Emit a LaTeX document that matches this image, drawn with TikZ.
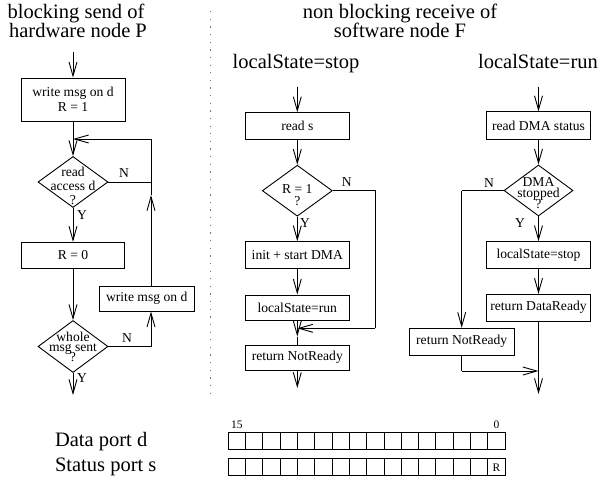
\documentclass[tikz,border=0pt]{standalone}
\usepackage{fontspec}
\setmainfont{Liberation Serif}
\usetikzlibrary{arrows.meta,shapes.geometric}
\begin{document}
\begin{tikzpicture}[x=1pt,y=-1pt,
  line width=0.9pt,
  big/.style={font=\fontsize{20.5}{19.4}\selectfont, inner sep=0pt},
  small/.style={font=\fontsize{13.6}{15.5}\selectfont},
  box/.style={draw, rectangle, inner sep=0pt, minimum width=103.3pt, minimum height=26pt, small, align=center},
  dia/.style={draw, diamond, inner sep=0pt, minimum width=70pt, minimum height=51pt},
  dline/.style={small, inner sep=0pt, anchor=base},
  arr/.style={-{Straight Barb[length=14pt,width=8pt]}},
  lbl/.style={small, inner sep=0pt},
  tiny/.style={font=\fontsize{11.5}{13}\selectfont, inner sep=0pt},
  cell/.style={draw, rectangle, minimum width=17.3pt, minimum height=17pt, inner sep=0pt},
  sep/.style={line width=1.3pt, black!55, dash pattern=on 1.3pt off 6.33pt}
]
\useasboundingbox (0,0) rectangle (600,483);

% ---------- titles ----------
\node[big, anchor=base] (t1a) at (76,18.5) {blocking send of};
\node[big, anchor=base] (t1b) at (78,37.7) {hardware node P};
\node[big, anchor=base] (t2a) at (400,18.5) {non blocking receive of};
\node[big, anchor=base] (t2b) at (400,37.7) {software node F};
\node[big, anchor=base] (t3) at (296,68) {localState=stop};
\node[big, anchor=base] (t4) at (538,68) {localState=run};

% separator
\coordinate (s1) at (210.7,11.1);
\coordinate (s2) at (210.7,394);
\draw[sep] (s1) -- (s2);

% ---------- left column ----------
\coordinate (in1) at (73,52);
\node[box, minimum width=104pt, minimum height=43pt] (w1) at (73,99.5) {write msg on d\\R = 1};
\draw[arr] (in1) -- (w1.north);
\node[dia] (d1) at (73,182) {};
\node[dline] (d1a) at (73,176.5) {read};
\node[dline] (d1b) at (73,190) {access d};
\node[dline] (d1c) at (73,204) {?};
\coordinate (j1) at (73,139);
\draw[arr] (w1.south) -- (d1.north);
\coordinate (r1) at (151,182);
\draw (d1.east) -- (r1);
\node[lbl] (n1) at (124,173) {N};
\node[box, minimum width=95.3pt, minimum height=25pt] (w2) at (146.7,298.5) {write msg on d};
\coordinate (up1) at (151,195);
\coordinate (c1) at (151,139);
\draw[arr] (w2.north -| up1) -- (up1);
\draw (up1) -- (c1);
\draw[arr] (c1) -- (j1);
\node[lbl] (y1) at (82,215) {Y};
\node[box] (r0) at (73,255.3) {R = 0};
\draw[arr] (d1.south) -- (r0.north);
\node[dia, minimum height=52pt] (d2) at (73,346.5) {};
\node[dline] (d2a) at (73,341.5) {whole};
\node[dline] (d2b) at (73,351.5) {msg sent};
\node[dline] (d2c) at (73,361.5) {?};
\draw[arr] (r0.south) -- (d2.north);
\coordinate (r2) at (151,346.5);
\draw (d2.east) -- (r2);
\draw[arr] (r2) -- (w2.south -| r2);
\node[lbl] (n2) at (127,338) {N};
\node[lbl] (y2) at (82,378) {Y};
\coordinate (out1) at (73,395);
\draw[arr] (d2.south) -- (out1);

% ---------- middle column ----------
\coordinate (in2) at (297.3,86.7);
\node[box, minimum height=26.5pt] (rs) at (297.3,126) {read s};
\draw[arr] (in2) -- (rs.north);
\node[dia] (d3) at (297.3,190.7) {};
\node[dline] (d3a) at (297.3,193) {R = 1};
\node[dline] (d3b) at (297.3,205) {?};
\draw[arr] (rs.south) -- (d3.north);
\node[lbl] (n3) at (346.7,181.7) {N};
\coordinate (c3a) at (375,190.7);
\coordinate (c3b) at (375,328.3);
\coordinate (j3) at (297.3,328.3);
\draw (d3.east) -- (c3a) -- (c3b);
\draw[arr] (c3b) -- (j3);
\node[lbl] (y3) at (305,222.7) {Y};
\node[box, minimum height=26.7pt] (dma) at (297.3,255) {init + start DMA};
\draw[arr] (d3.south) -- (dma.north);
\node[box, minimum height=25pt] (lsr) at (297.3,307.5) {localState=run};
\draw[arr] (dma.south) -- (lsr.north);
\node[box, minimum height=25pt] (rnr1) at (297.3,357.5) {return NotReady};
\coordinate (tip3) at (297.3,336.5);
\draw[arr] (lsr.south) -- (tip3);
\draw (tip3) -- (rnr1.north);
\coordinate (out2) at (297.3,388);
\draw[arr] (rnr1.south) -- (out2);

% ---------- right column ----------
\coordinate (in3) at (538.5,86.7);
\node[box, minimum height=27.3pt] (rds) at (538.5,125.5) {read DMA status};
\draw[arr] (in3) -- (rds.north);
\node[dia, minimum width=69pt] (d4) at (538.5,190.5) {};
\node[dline] (d4a) at (538.5,186.7) {DMA};
\node[dline] (d4b) at (538.5,197.5) {stopped};
\node[dline] (d4c) at (538.5,208) {?};
\draw[arr] (rds.south) -- (d4.north);
\node[lbl] (n4) at (489,182.7) {N};
\coordinate (c4a) at (461.7,190.5);
\node[box, minimum width=105pt, minimum height=26.7pt] (rnr2) at (461.7,341.7) {return NotReady};
\draw (d4.west) -- (c4a);
\draw[arr] (c4a) -- (rnr2.north);
\node[lbl] (y4) at (520,222.7) {Y};
\node[box, minimum height=26.7pt] (lss) at (538.5,255) {localState=stop};
\draw[arr] (d4.south) -- (lss.north);
\node[box, minimum height=26.7pt] (rdr) at (538.5,307.7) {return DataReady};
\draw[arr] (lss.south) -- (rdr.north);
\coordinate (c4b) at (461.7,371);
\coordinate (j4) at (538.5,371);
\draw (rnr2.south) -- (c4b);
\draw[arr] (c4b) -- (j4);
\coordinate (out3) at (538.5,394);
\draw[arr] (rdr.south) -- (out3);

% ---------- registers ----------
\node[big, anchor=base west] (dp) at (54.6,446) {Data port d};
\node[big, anchor=base west] (sp) at (54.6,471) {Status port s};
\foreach \i in {0,...,15} {
  \node[cell] (a\i) at ({228.3+8.65+17.3*\i},441) {};
  \node[cell] (b\i) at ({228.3+8.65+17.3*\i},467.3) {};
}
\node[tiny, anchor=base] (l15) at (236.9,428) {15};
\node[tiny, anchor=base] (l0) at (496.4,428) {0};
\node[tiny] (rr) at (b15) {R};
\end{tikzpicture}
\end{document}
